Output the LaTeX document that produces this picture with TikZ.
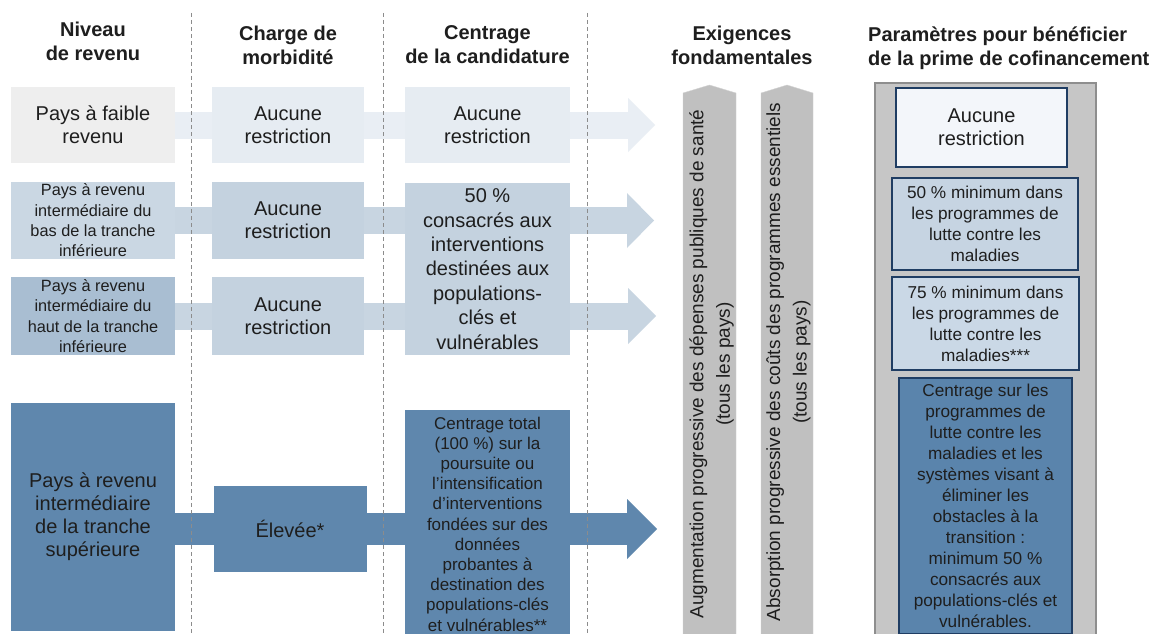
\documentclass[tikz,border=0pt]{standalone}
\usepackage{fontspec}
\setmainfont{Liberation Sans}
\usetikzlibrary{backgrounds,calc}

\definecolor{txtColor}{HTML}{1E1E1E}
\definecolor{lowColor}{HTML}{EEEEEE}
\definecolor{lowBox}{HTML}{E6ECF2}
\definecolor{lowBand}{HTML}{E9EEF4}
\definecolor{lmiColor}{HTML}{CAD7E3}
\definecolor{lmiBox}{HTML}{C4D2DF}
\definecolor{lmiBand}{HTML}{C8D5E1}
\definecolor{hmiColor}{HTML}{A9BED2}
\definecolor{umiColor}{HTML}{5F87AD}
\definecolor{barColor}{HTML}{C0C0C0}
\definecolor{panelColor}{HTML}{C6C6C6}
\definecolor{panelEdge}{HTML}{8E8E8E}
\definecolor{navyColor}{HTML}{1F3D63}
\definecolor{dashColor}{HTML}{8C8C8C}
\definecolor{cofNone}{HTML}{F3F6FA}
\definecolor{cofHalf}{HTML}{C6D4E2}
\definecolor{cofMost}{HTML}{CAD8E6}
\definecolor{cofUmi}{HTML}{5A84AC}

\newcommand{\hdfont}{\fontsize{20}{24}\selectfont\bfseries}
\newcommand{\bigfont}{\fontsize{20}{23}\selectfont}
\newcommand{\midfont}{\fontsize{16.3}{20.3}\selectfont}
\newcommand{\smfont}{\fontsize{17.2}{21}\selectfont}

\begin{document}
\begin{tikzpicture}[x=1pt, y=-1pt,
    box/.style={rectangle, inner sep=0pt, align=center, text=txtColor},
    hdr/.style={inner sep=0pt, align=center, font=\hdfont, text=txtColor},
    sep/.style={draw=dashColor, line width=0.9pt, dash pattern=on 4pt off 3pt},
    prm/.style={rectangle, draw=navyColor, line width=1.8pt, inner sep=0pt, align=center, font=\smfont, text=txtColor},
    bartext/.style={rotate=90, inner sep=0pt, align=center, font=\fontsize{19}{26.5}\selectfont, text=txtColor}]
    \useasboundingbox (0,0) rectangle (1157,634);

    % Column headers
    \node[hdr] (hlevel) at (93,41) {Niveau\\de revenu};
    \node[hdr] (hburden) at (288,45) {Charge de\\morbidité};
    \node[hdr] (hfocus) at (487.5,45) {Centrage\\de la candidature};
    \node[hdr] (hreq) at (742,45) {Exigences\\fondamentales};
    \node[hdr, align=left, anchor=west] (hcof) at (868,48) {Paramètres pour bénéficier\\de la prime de cofinancement};

    % Low income
    \node[box, fill=lowColor, minimum width=164pt, minimum height=76pt, font=\bigfont] (low) at (93,125) {Pays à faible\\revenu};
    \node[box, fill=lowBox, minimum width=152pt, minimum height=76pt, font=\bigfont] (lowburden) at (288,125) {Aucune\\restriction};
    \node[box, fill=lowBox, minimum width=165pt, minimum height=76pt, font=\bigfont] (lowfocus) at (487.5,125) {Aucune\\restriction};

    % Lower middle income
    \node[box, fill=lmiColor, minimum width=164pt, minimum height=77pt, font=\midfont] (lmilow) at (93,220.5) {Pays à revenu\\intermédiaire du\\bas de la tranche\\inférieure};
    \node[box, fill=lmiBox, minimum width=152pt, minimum height=77pt, font=\bigfont] (lmilowburden) at (288,220.5) {Aucune\\restriction};
    \node[box, fill=hmiColor, minimum width=164pt, minimum height=78pt, font=\midfont] (lmihigh) at (93,316) {Pays à revenu\\intermédiaire du\\haut de la tranche\\inférieure};
    \node[box, fill=lmiBox, minimum width=152pt, minimum height=78pt, font=\bigfont] (lmihighburden) at (288,316) {Aucune\\restriction};
    \node[box, fill=lmiBox, minimum width=165pt, minimum height=172pt, font=\fontsize{20}{24.4}\selectfont] (lmifocus) at (487.5,269) {50 \%\\consacrés aux\\interventions\\destinées aux\\populations-\\clés et\\vulnérables};

    % Upper middle income
    \node[box, fill=umiColor, minimum width=164pt, minimum height=228pt, font=\bigfont] (umi) at (93,517) {Pays à revenu\\intermédiaire\\de la tranche\\supérieure};
    \node[box, fill=umiColor, minimum width=153pt, minimum height=86pt, font=\bigfont] (umiburden) at (290,529) {Élevée*};
    \node[box, fill=umiColor, minimum width=165pt, minimum height=228pt, font=\fontsize{17}{20.2}\selectfont] (umifocus) at (487.5,524) {Centrage total\\(100 \%) sur la\\poursuite ou\\l'intensification\\d'interventions\\fondées sur des\\données\\probantes à\\destination des\\populations-clés\\et vulnérables**};

    % Core requirements
    \fill[barColor, draw=black!17] (683,640) -- (683,93) -- (709.5,85) -- (736,93) -- (736,640) -- cycle;
    \fill[barColor, draw=black!17] (761,640) -- (761,93) -- (787,85) -- (813,93) -- (813,640) -- cycle;
    \node[bartext] (reqspend) at (711.5,364) {Augmentation progressive des dépenses publiques de santé\\(tous les pays)};
    \node[bartext] (reqcost) at (788.5,362) {Absorption progressive des coûts des programmes essentiels\\(tous les pays)};

    % Co-financing incentive
    \node[draw=panelEdge, fill=panelColor, line width=1.2pt, inner sep=0pt, minimum width=221pt, minimum height=565pt] (panel) at (985.5,365.5) {};
    \node[prm, fill=cofNone, minimum width=171pt, minimum height=79pt, font=\bigfont] (cofnone) at (981.5,127.5) {Aucune\\restriction};
    \node[prm, fill=cofHalf, minimum width=186pt, minimum height=92pt] (cofhalf) at (985,224) {50 \% minimum dans\\les programmes de\\lutte contre les\\maladies};
    \node[prm, fill=cofMost, minimum width=187pt, minimum height=93pt] (cofmost) at (985.5,323.5) {75 \% minimum dans\\les programmes de\\lutte contre les\\maladies***};
    \node[prm, fill=cofUmi, minimum width=173pt, minimum height=256pt] (cofumi) at (985.5,506) {Centrage sur les\\programmes de\\lutte contre les\\maladies et les\\systèmes visant à\\éliminer les\\obstacles à la\\transition :\\minimum 50 \%\\consacrés aux\\populations-clés et\\vulnérables.};

    \coordinate (lowhead) at (628,125);      \coordinate (lowtip) at (655,125);
    \coordinate (lmilowhead) at (627,220.5); \coordinate (lmilowtip) at (654,220.5);
    \coordinate (lmihighhead) at (628,316);  \coordinate (lmihightip) at (656,316);
    \coordinate (umihead) at (627,529);      \coordinate (umitip) at (657,529);

    \begin{scope}[on background layer]
        \fill[white] (0,0) rectangle (1157,634);
        % Bands
        \draw[lowBand, line width=27pt] (low) -- ($(lowhead)+(2,0)$);
        \fill[lowBand] ($(lowhead)+(0,-27)$) -- (lowtip) -- ($(lowhead)+(0,27)$) -- cycle;
        \draw[lmiBand, line width=27pt] (lmilow) -- ($(lmilowhead)+(2,0)$);
        \fill[lmiBand] ($(lmilowhead)+(0,-27.5)$) -- (lmilowtip) -- ($(lmilowhead)+(0,27.5)$) -- cycle;
        \draw[lmiBand, line width=27pt] (lmihigh) -- ($(lmihighhead)+(2,0)$);
        \fill[lmiBand] ($(lmihighhead)+(0,-28)$) -- (lmihightip) -- ($(lmihighhead)+(0,28)$) -- cycle;
        \draw[umiColor, line width=32pt] (umi.east |- umiburden.center) -- ($(umihead)+(2,0)$);
        \fill[umiColor] ($(umihead)+(0,-30)$) -- (umitip) -- ($(umihead)+(0,30)$) -- cycle;
        % Column separators
        \foreach \x in {191,383,587}
            \draw[sep] (\x,13) -- (\x,640);
    \end{scope}
\end{tikzpicture}
\end{document}
